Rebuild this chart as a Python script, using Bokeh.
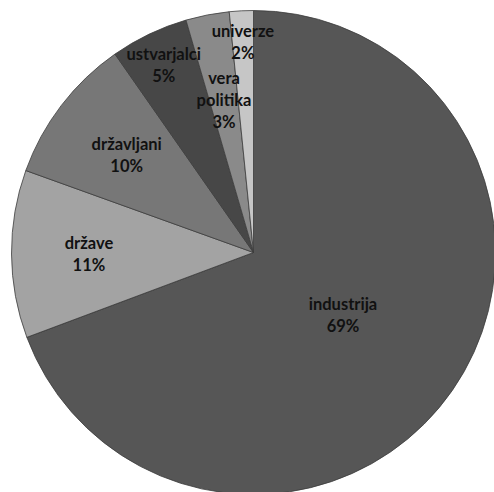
import math
from bokeh.plotting import figure
from bokeh.models import Range1d, ColumnDataSource
from bokeh.core.properties import value
from bokeh.embed import file_html
from bokeh.resources import INLINE

# Data (clockwise from 12 o'clock)
categories = ["industrija", "države", "državljani", "ustvarjalci", "vera\npolitika", "univerze"]
shares = [69.3, 11.2, 9.8, 5.2, 2.9, 1.6]
colors = ["#565656", "#a3a3a3", "#777777", "#474747", "#8a8a8a", "#c6c6c6"]
# label radius fraction per slice (styling)
label_r = [0.45, 0.68, 0.66, 0.86, 0.64, 0.87]

W, H = 494, 492
cx, cy = 253, 252
R = 242

total = sum(shares)
starts, ends, lx, ly, texts = [], [], [], [], []
cum = 0.0
for cat, s, lr in zip(categories, shares, label_r):
    a0 = cum / total
    cum += s
    a1 = cum / total
    starts.append(math.pi / 2 - 2 * math.pi * a1)
    ends.append(math.pi / 2 - 2 * math.pi * a0)
    mid = (a0 + a1) / 2
    th = 2 * math.pi * mid
    lx.append(math.sin(th) * R * lr)
    ly.append(math.cos(th) * R * lr)
    texts.append(f"{cat}\n{round(s / total * 100)}%")

src = ColumnDataSource(dict(start=starts, end=ends, color=colors))
lsrc = ColumnDataSource(dict(x=lx, y=ly, text=texts))

p = figure(width=W, height=H, output_backend="svg", toolbar_location=None,
           x_range=Range1d(-cx, W - cx), y_range=Range1d(-(H - cy), cy),
           min_border=0, background_fill_color="white", border_fill_color="white")
p.axis.visible = False
p.grid.visible = False
p.outline_line_color = None

p.wedge(x=0, y=0, radius=R, start_angle="start", end_angle="end",
        fill_color="color", line_color="#3c3c3c", line_width=0.8, source=src)

p.text(x="x", y="y", text="text", source=lsrc, text_align="center",
       text_baseline="middle", text_font=value("Lato"), text_font_style="bold",
       text_font_size="16.5px", text_color="#111111", text_line_height=1.1)

open("out.html", "w").write(file_html(p, INLINE))
